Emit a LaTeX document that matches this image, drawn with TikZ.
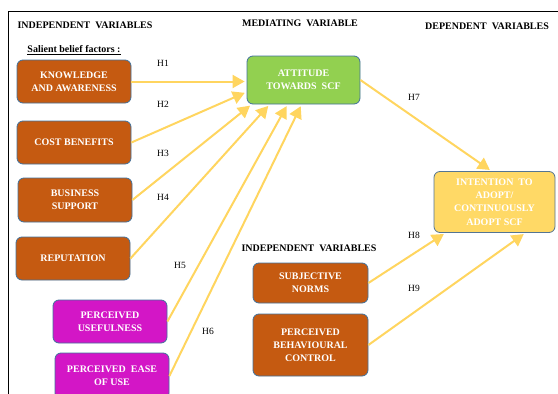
\documentclass[tikz,border=0pt]{standalone}
\usepackage{fontspec}
\setmainfont{Liberation Serif}
\usetikzlibrary{arrows.meta, positioning}
\definecolor{boxbrown}{HTML}{C55A11}
\definecolor{boxpink}{HTML}{D316C6}
\definecolor{boxgreen}{HTML}{92D050}
\definecolor{boxyellow}{HTML}{FFD966}
\definecolor{boxedge}{HTML}{41719C}
\definecolor{linkyellow}{HTML}{FFD55F}

\begin{document}
\begin{tikzpicture}[x=1pt, y=-1pt, font=\fontsize{10}{13}\selectfont, >={Triangle[length=12pt,width=13pt]}]
    \tikzset{
        vbox/.style={draw=boxedge, line width=0.8pt, rounded corners=6pt, text=white,
            font=\fontsize{10}{13.2}\selectfont\bfseries, align=center, inner sep=1pt,
            minimum width=114pt, minimum height=43pt},
        head/.style={font=\fontsize{10}{12}\selectfont\bfseries},
        hlabel/.style={font=\fontsize{9.5}{11}\selectfont},
        link/.style={->, draw=linkyellow, fill=linkyellow, line width=2pt, shorten >=2pt},
    }
    \useasboundingbox (0,0) rectangle (558,394);
    \draw[line width=0.8pt] (558,11) -- (8,11) -- (8,394);

    % headings
    \node[head] (hind) at (85,25) {INDEPENDENT\ \ VARIABLES};
    \node[head] (hmed) at (300,23) {MEDIATING\ \ VARIABLE};
    \node[head] (hdep) at (487,26) {DEPENDENT\ \ VARIABLES};
    \node[head] (hind2) at (309,248) {INDEPENDENT\ \ VARIABLES};
    \node[head] (salient) at (74,50) {\underline{Salient belief factors\ :}};

    % salient belief factors
    \node[vbox, fill=boxbrown] (know) at (74,81.5) {KNOWLEDGE\\AND AWARENESS};
    \node[vbox, fill=boxbrown] (cost) at (74,142.5) {COST BENEFITS};
    \node[vbox, fill=boxbrown, minimum height=44pt] (bus) at (75,200) {BUSINESS\\SUPPORT};
    \node[vbox, fill=boxbrown] (rep) at (73,258.5) {REPUTATION};
    \node[vbox, fill=boxpink] (use) at (110,321.5) {PERCEIVED\\USEFULNESS};
    \node[vbox, fill=boxpink, minimum height=46pt] (ease) at (112,376) {PERCEIVED\ \ EASE\\OF USE};

    % mediating and dependent
    \node[vbox, fill=boxgreen, minimum width=113pt, minimum height=48pt] (att) at (303.5,80) {ATTITUDE\\TOWARDS\ \ SCF};
    \node[vbox, fill=boxyellow, draw=boxedge!70!gray, minimum width=121pt, minimum height=61pt] (int) at (494.5,202) {INTENTION\ \ TO\\ADOPT/\\CONTINUOUSLY\\ADOPT SCF};

    % other independent variables
    \node[vbox, fill=boxbrown, minimum width=115pt, minimum height=40pt] (subj) at (310.5,283) {SUBJECTIVE\\NORMS};
    \node[vbox, fill=boxbrown, minimum width=115pt, minimum height=62pt] (pbc) at (310.5,345) {PERCEIVED\\BEHAVIOURAL\\CONTROL};

    % hypotheses
    \draw[link] (know.east) -- (att.west |- know.east);
    \draw[link] (cost.east) -- ([yshift=-12pt]att.west);
    \draw[link] (bus.east) -- ([xshift=5pt]att.south west);
    \draw[link] (rep.east) -- ([xshift=23pt]att.south west);
    \draw[link] (use.east) -- ([xshift=41pt]att.south west);
    \draw[link] (ease.east) -- ([xshift=55pt]att.south west);
    \draw[link] (att.east) -- ([xshift=-3pt]int.north);
    \draw[link] (subj.east) -- ([xshift=12pt]int.south west);
    \draw[link] (pbc.east) -- ([xshift=-30pt]int.south east);

    \node[hlabel] (h1) at (163,63) {H1};
    \node[hlabel] (h2) at (163,104) {H2};
    \node[hlabel] (h3) at (163,153) {H3};
    \node[hlabel] (h4) at (163,197) {H4};
    \node[hlabel] (h5) at (180,265) {H5};
    \node[hlabel] (h6) at (208,331) {H6};
    \node[hlabel] (h7) at (414,97) {H7};
    \node[hlabel] (h8) at (414,235) {H8};
    \node[hlabel] (h9) at (414,288) {H9};
\end{tikzpicture}
\end{document}
